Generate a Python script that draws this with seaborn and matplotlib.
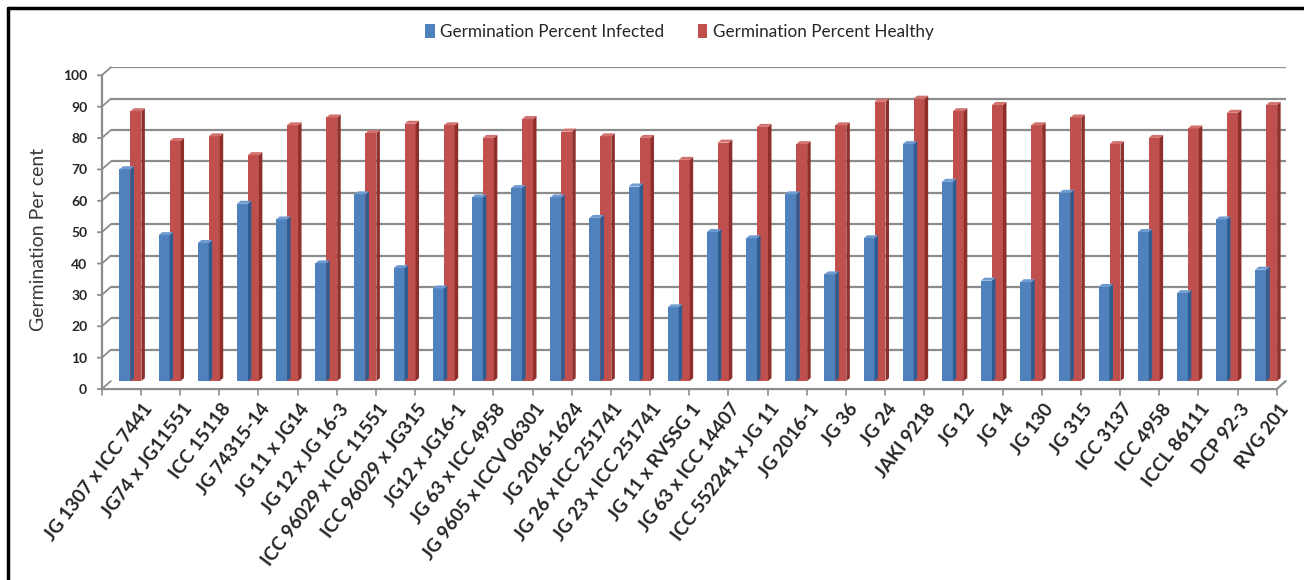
import matplotlib
matplotlib.use("Agg")
import matplotlib.pyplot as plt
from matplotlib.patches import Polygon, Patch
from matplotlib.lines import Line2D
from matplotlib.transforms import ScaledTranslation
import seaborn as sns
import pandas as pd
import numpy as np

genotypes = [
    "JG 1307 x ICC 7441", "JG74 x JG11551", "ICC 15118", "JG 74315-14",
    "JG 11 x JG14", "JG 12 x JG 16-3", "ICC 96029 x ICC 11551",
    "ICC 96029 x JG315", "JG12 x JG16-1", "JG 63 x ICC 4958",
    "JG 9605 x ICCV 06301", "JG 2016-1624", "JG 26 x ICC 251741",
    "JG 23 x ICC 251741", "JG 11 x RVSSG 1", "JG 63 x ICC 14407",
    "ICC 552241 x JG 11", "JG 2016-1", "JG 36", "JG 24", "JAKI 9218",
    "JG 12", "JG 14", "JG 130", "JG 315", "ICC 3137", "ICC 4958",
    "ICCL 86111", "DCP 92-3", "RVG 201",
]
infected = [67.5, 46.5, 44.0, 56.5, 51.5, 37.5, 59.5, 36.0, 29.5, 58.5,
            61.5, 58.5, 52.0, 62.0, 23.5, 47.5, 45.5, 59.5, 34.0, 45.5,
            75.5, 63.5, 32.0, 31.5, 60.0, 30.0, 47.5, 28.0, 51.5, 35.5]
healthy = [86.0, 76.5, 78.0, 72.0, 81.5, 84.0, 79.0, 82.0, 81.5, 77.5,
           83.5, 79.5, 78.0, 77.5, 70.5, 76.0, 81.0, 75.5, 81.5, 89.0,
           90.0, 86.0, 88.0, 81.5, 84.0, 75.5, 77.5, 80.5, 85.5, 88.0]
series_names = ["Germination Percent Infected", "Germination Percent Healthy"]
colors = ["#4F81BD", "#C0504D"]
side_colors = ["#2F5C91", "#8E2F2C"]
top_colors = ["#6F9BD1", "#D2716E"]
grid_color = "#8C8C8C"

df = pd.DataFrame({
    "Genotype": genotypes * 2,
    "Value": infected + healthy,
    "Series": [series_names[0]] * len(genotypes) + [series_names[1]] * len(genotypes),
})

sns.set_theme(style="white")
plt.rcParams["font.family"] = ["Lato", "DejaVu Sans"]

fig = plt.figure(figsize=(13.04, 5.80), dpi=100)
ax = fig.add_axes([0.085, 0.343, 0.901, 0.541])

sns.barplot(data=df, x="Genotype", y="Value", hue="Series",
            palette=colors, width=0.56, saturation=1, ax=ax,
            legend=False, linewidth=0)

n = len(genotypes)
ax.set_xlim(-0.5, n - 0.5)
ax.set_ylim(0, 100)

# back-wall gridlines
for v in range(10, 101, 10):
    ax.axhline(v, color=grid_color, lw=1.6, zorder=0)

fig.canvas.draw()
bbox = ax.get_window_extent()
px_x = n / bbox.width          # data units per pixel, x
px_y = 100 / bbox.height       # data units per pixel, y

# pseudo-3D side and top faces for each bar
dx, dy = 3.5 * px_x, 3.0 * px_y
for i, p in enumerate(ax.patches[:2 * n]):
    s = 0 if i < n else 1
    x0, w, h = p.get_x(), p.get_width(), p.get_height()
    ax.add_patch(Polygon([(x0 + w, 0), (x0 + w, h), (x0 + w + dx, h + dy),
                          (x0 + w + dx, dy)], closed=True,
                         facecolor=side_colors[s], edgecolor="none", zorder=2))
    ax.add_patch(Polygon([(x0, h), (x0 + w, h), (x0 + w + dx, h + dy),
                          (x0 + dx, h + dy)], closed=True,
                         facecolor=top_colors[s], edgecolor="none", zorder=2))

# front axis frame, offset from the back wall to give depth
wx, wy = 9 * px_x, 8 * px_y
xl = -0.5 - wx
ax.add_line(Line2D([xl, xl], [-wy, 100 - wy], color=grid_color, lw=1.6,
                   clip_on=False))
for v in range(0, 101, 10):
    ax.add_line(Line2D([xl - 4 * px_x, xl, -0.5], [v - wy, v - wy, v],
                       color=grid_color, lw=1.3, clip_on=False))
ax.add_line(Line2D([xl, n - 0.5 - wx, n - 0.5], [-wy, -wy, 0],
                   color=grid_color, lw=1.6, clip_on=False))
for k in range(n + 1):
    xk = k - 0.5 - wx
    ax.add_line(Line2D([xk, xk], [-wy, -wy - 6 * px_y], color=grid_color,
                       lw=1.2, clip_on=False))

for sp in ax.spines.values():
    sp.set_visible(False)

ax.set_yticks(range(0, 101, 10))
ax.tick_params(axis="y", which="major", length=0, labelsize=10, pad=17)
shift = ScaledTranslation(0, -8 / 100, fig.dpi_scale_trans)
for t in ax.get_yticklabels():
    t.set_fontweight("bold")
    t.set_transform(t.get_transform() + shift)

ax.set_xticks(range(n))
ax.set_xticklabels(genotypes, rotation=53, ha="right",
                   rotation_mode="anchor", fontsize=13.5, fontweight="bold")
ax.tick_params(axis="x", which="major", length=0, pad=14)
xshift = ScaledTranslation(12 / 100, 0, fig.dpi_scale_trans)
for t in ax.get_xticklabels():
    t.set_transform(t.get_transform() + xshift)

ax.set_xlabel("")
ax.set_ylabel("Germination Per cent", fontsize=14, color="#3A3A3A")
ax.yaxis.set_label_coords(-0.054, 0.45)

handles = [Patch(facecolor=c, edgecolor="none") for c in colors]
fig.legend(handles, series_names, loc="center", bbox_to_anchor=(0.521, 0.945),
           ncol=2, frameon=False, fontsize=12.3, handlelength=0.55,
           handleheight=0.9, handletextpad=0.3, columnspacing=2.0)

# chart frame
fig.add_artist(Line2D([0.0065, 1.0], [0.986, 0.986], color="black", lw=2.5,
                      transform=fig.transFigure))
fig.add_artist(Line2D([0.0065, 0.0065], [0.0, 0.986], color="black", lw=2.5,
                      transform=fig.transFigure))

fig.savefig("out.png", dpi=100, facecolor="white")
